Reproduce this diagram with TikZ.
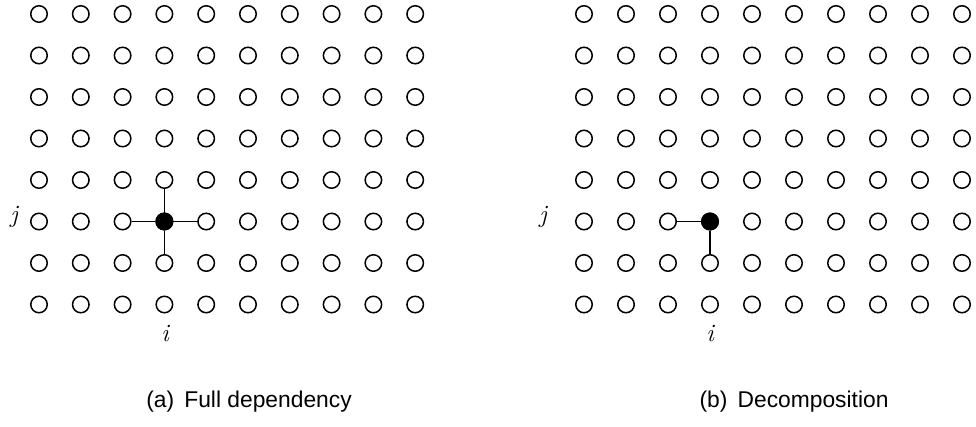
\documentclass[tikz,border=0pt]{standalone}
\usepackage{fontspec}
\setsansfont{Liberation Sans}
\usepackage{tikz}
\usetikzlibrary{positioning}

\begin{document}
\begin{tikzpicture}[
  x=1pt, y=-1pt,
  gridpt/.style={circle, draw=black, line width=1.5pt, fill=white, minimum size=16.5pt, inner sep=0pt},
  actpt/.style={gridpt, fill=black},
  dep/.style={line width=1.6pt, draw=black},
  idx/.style={font=\fontsize{25}{28}\selectfont\itshape, inner sep=0pt},
  subcap/.style={font=\sffamily\fontsize{22.8}{26}\selectfont, inner sep=0pt},
]
\useasboundingbox (0,0) rectangle (976,426);

% grid (a)
\foreach \c in {0,...,9}{
  \foreach \r in {0,...,7}{
    \node[gridpt] (a-\c-\r) at ({39+41.8*\c},{14+41.5*\r}) {};
  }
}
% grid (b)
\foreach \c in {0,...,9}{
  \foreach \r in {0,...,7}{
    \node[gridpt] (b-\c-\r) at ({584+42*\c},{14+41.5*\r}) {};
  }
}

\node[actpt] at (a-3-5) (ap) {};
\node[actpt] at (b-3-5) (bp) {};

\draw[dep] (ap) -- (a-2-5);
\draw[dep] (ap) -- (a-4-5);
\draw[dep] (ap) -- (a-3-4);
\draw[dep] (ap) -- (a-3-6);

\draw[dep] (bp) -- (b-2-5);
\draw[dep] (bp) -- (b-3-6);

\node[idx] (aj) at (14,217) {j};
\node[idx] (ai) at (165,333) {i};
\node[idx] (bj) at (543,217) {j};
\node[idx] (bi) at (710,333) {i};

\node[subcap] (acap) at (249,402) {(a)\hspace{0.45em}Full dependency};
\node[subcap] (bcap) at (794,402) {(b)\hspace{0.45em}Decomposition};
\end{tikzpicture}
\end{document}
